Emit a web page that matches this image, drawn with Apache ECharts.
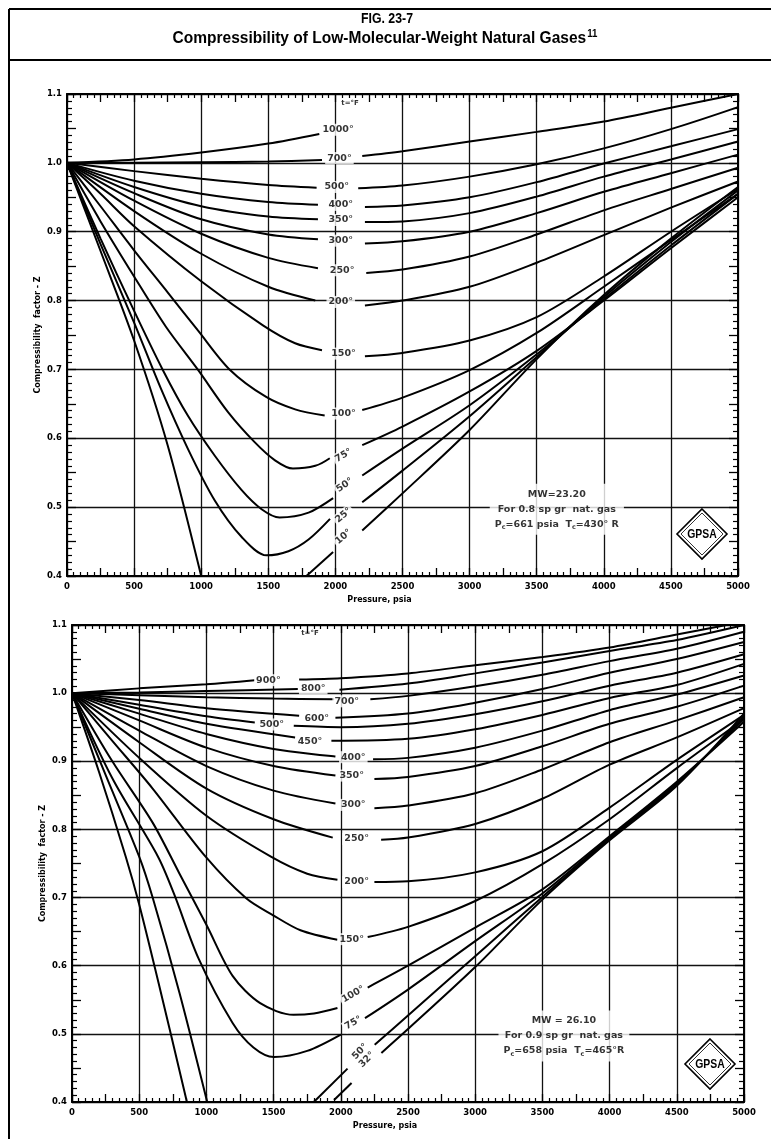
<!DOCTYPE html>
<html><head><meta charset="utf-8">
<script src="https://cdn.jsdelivr.net/npm/echarts@6/dist/echarts.min.js"></script>
<style>html,body{margin:0;padding:0;background:#fff;}#c{width:771px;height:1139px;}</style>
</head><body><div id="c"></div>
<script>
// ---------- DATA : top chart (0.8 sp gr gas), [pressure psia, Z] ; null = gap at label ----------
const topT1000 = [[0,1.000],[500,1.005],[1000,1.015],[1500,1.028],[1880,1.042]];
const topT700 = [[0,1.000],[500,1.000],[1000,1.001],[1500,1.002],[1900,1.004],null,[2200,1.010],[2500,1.017],[3000,1.031],[3500,1.045],[4000,1.060],[4500,1.080],[5000,1.100]];
const topT500 = [[0,1.000],[500,0.988],[1000,0.977],[1500,0.968],[1860,0.964],null,[2170,0.963],[2500,0.967],[3000,0.980],[3500,0.998],[4000,1.021],[4500,1.049],[5000,1.081]];
const topT400 = [[0,1.000],[500,0.974],[1000,0.955],[1500,0.943],[1870,0.939],null,[2220,0.936],[2500,0.938],[3000,0.950],[3500,0.972],[4000,0.999],[4500,1.024],[5000,1.049]];
const topT350 = [[0,1.000],[500,0.965],[1000,0.937],[1500,0.922],[1870,0.918],null,[2220,0.914],[2500,0.915],[3000,0.927],[3500,0.951],[4000,0.980],[4500,1.005],[5000,1.031]];
const topT300 = [[0,1.000],[500,0.956],[1000,0.918],[1500,0.896],[1870,0.889],null,[2220,0.883],[2500,0.886],[3000,0.900],[3500,0.927],[4000,0.958],[4500,0.985],[5000,1.012]];
const topT250 = [[0,1.000],[500,0.945],[1000,0.897],[1500,0.862],[1870,0.847],null,[2230,0.840],[2500,0.845],[3000,0.864],[3500,0.896],[4000,0.931],[4500,0.962],[5000,0.993]];
const topT200 = [[0,1.000],[500,0.930],[1000,0.868],[1500,0.820],[1850,0.800],null,[2220,0.793],[2500,0.800],[3000,0.820],[3500,0.855],[4000,0.895],[4500,0.935],[5000,0.973]];
const topT150 = [[0,1.000],[250,0.955],[500,0.908],[1000,0.828],[1460,0.764],[1700,0.738],[1900,0.728],null,[2220,0.719],[2500,0.724],[3000,0.742],[3500,0.776],[4000,0.835],[4500,0.900],[5000,0.962]];
const topT100 = [[0,1.000],[250,0.937],[500,0.873],[750,0.812],[974,0.757],[1211,0.700],[1484,0.660],[1700,0.642],[1920,0.633],null,[2200,0.641],[2500,0.659],[3000,0.699],[3500,0.753],[4000,0.820],[4500,0.888],[5000,0.955]];
const topT75 = [[0,1.000],[250,0.915],[500,0.835],[737,0.762],[974,0.700],[1200,0.638],[1400,0.594],[1550,0.568],[1684,0.556],[1850,0.560],[1958,0.571],null,[2200,0.590],[2500,0.617],[3000,0.668],[3500,0.727],[4000,0.800],[4500,0.876],[5000,0.950]];
const topT50 = [[0,1.000],[250,0.890],[500,0.785],[712,0.700],[900,0.633],[1100,0.575],[1300,0.525],[1450,0.497],[1584,0.485],[1800,0.492],[1983,0.513],null,[2200,0.546],[2500,0.585],[3000,0.648],[3500,0.722],[4000,0.802],[4500,0.880],[5000,0.955]];
const topT25 = [[0,1.000],[250,0.882],[500,0.768],[700,0.672],[900,0.585],[1100,0.510],[1300,0.457],[1485,0.430],[1650,0.436],[1800,0.453],[1960,0.483],null,[2200,0.507],[2500,0.553],[3000,0.632],[3500,0.718],[4000,0.805],[4500,0.885],[5000,0.960]];
const topT10 = [[0,1.000],[250,0.872],[500,0.742],[750,0.590],[1000,0.400],null,[1784,0.400],[1983,0.435],null,[2200,0.466],[2500,0.520],[3000,0.612],[3500,0.715],[4000,0.808],[4500,0.890],[5000,0.965]];
const topCurves = [topT1000,topT700,topT500,topT400,topT350,topT300,topT250,topT200,topT150,topT100,topT75,topT50,topT25,topT10];
const topLabelText = ['1000°','700°','500°','400°','350°','300°','250°','200°','150°','100°','75°','50°','25°','10°'];
const topLabelP = [2020,2030,2010,2040,2040,2040,2050,2040,2060,2060,2060,2070,2060,2060];
const topLabelZ = [1.048,1.007,0.965,0.939,0.917,0.887,0.844,0.798,0.723,0.636,0.575,0.532,0.488,0.457];

// ---------- DATA : bottom chart (0.9 sp gr gas) ----------
const botT900 = [[0,1.000],[500,1.007],[1000,1.013],[1360,1.019],null,[1690,1.020],[2000,1.022],[2500,1.029],[3000,1.041],[3500,1.053],[4000,1.067],[4500,1.086],[5000,1.105]];
const botT800 = [[0,1.000],[500,1.001],[1000,1.003],[1680,1.006],null,[1990,1.005],[2500,1.014],[3000,1.029],[3500,1.045],[4000,1.062],[4500,1.078],[5000,1.100]];
const botT700 = [[0,1.000],[500,0.997],[1000,0.994],[1500,0.992],[1950,0.991],null,[2220,0.991],[2500,0.996],[3000,1.010],[3500,1.027],[4000,1.047],[4500,1.065],[5000,1.090]];
const botT600 = [[0,1.000],[500,0.990],[1000,0.978],[1690,0.967],null,[1960,0.964],[2500,0.970],[3000,0.986],[3500,1.006],[4000,1.030],[4500,1.050],[5000,1.075]];
const botT500 = [[0,1.000],[500,0.983],[1000,0.966],[1360,0.957],null,[1650,0.952],[2000,0.950],[2500,0.955],[3000,0.969],[3500,0.988],[4000,1.011],[4500,1.030],[5000,1.057]];
const botT450 = [[0,1.000],[500,0.977],[1000,0.955],[1660,0.935],null,[1930,0.930],[2500,0.933],[3000,0.947],[3500,0.968],[4000,0.993],[4500,1.012],[5000,1.043]];
const botT400 = [[0,1.000],[500,0.970],[1000,0.940],[1500,0.918],[1960,0.907],null,[2240,0.903],[2500,0.905],[3000,0.920],[3500,0.945],[4000,0.975],[4500,0.998],[5000,1.026]];
const botT350 = [[0,1.000],[500,0.960],[1000,0.920],[1500,0.893],[1960,0.879],null,[2250,0.874],[2500,0.877],[3000,0.893],[3500,0.922],[4000,0.955],[4500,0.980],[5000,1.011]];
const botT300 = [[0,1.000],[500,0.945],[1000,0.893],[1500,0.857],[1960,0.838],null,[2250,0.831],[2500,0.835],[3000,0.853],[3500,0.888],[4000,0.928],[4500,0.960],[5000,0.994]];
const botT250 = [[0,1.000],[500,0.928],[1000,0.860],[1500,0.815],[1940,0.788],null,[2300,0.785],[2500,0.788],[3000,0.808],[3500,0.845],[4000,0.895],[4500,0.935],[5000,0.978]];
const botT200 = [[0,1.000],[500,0.905],[1000,0.820],[1480,0.760],[1750,0.735],[1975,0.726],null,[2250,0.723],[2500,0.724],[3000,0.737],[3500,0.768],[4000,0.832],[4500,0.902],[5000,0.968]];
const botT150 = [[0,1.000],[300,0.930],[600,0.860],[994,0.760],[1296,0.699],[1497,0.674],[1700,0.652],[1975,0.638],null,[2200,0.642],[2500,0.657],[3000,0.695],[3500,0.749],[4000,0.815],[4500,0.890],[5000,0.962]];
const botT100 = [[0,1.000],[300,0.900],[600,0.810],[800,0.735],[1000,0.660],[1195,0.585],[1400,0.545],[1648,0.528],[1800,0.530],[1975,0.538],null,[2200,0.568],[2500,0.600],[3000,0.656],[3500,0.712],[4000,0.790],[4500,0.870],[5000,0.958]];
const botT75 = [[0,1.000],[300,0.875],[640,0.760],[760,0.705],[943,0.610],[1195,0.516],[1350,0.480],[1503,0.466],[1750,0.475],[2000,0.499],null,[2180,0.523],[2500,0.565],[3000,0.636],[3500,0.706],[4000,0.788],[4500,0.868],[5000,0.962]];
const botT50 = [[0,1.000],[250,0.880],[500,0.760],[600,0.700],[800,0.560],[1006,0.400],null,[1799,0.400],[2050,0.449],null,[2252,0.484],[2500,0.527],[3000,0.614],[3500,0.701],[4000,0.786],[4500,0.866],[5000,0.966]];
const botT32 = [[0,1.000],[200,0.885],[400,0.760],[500,0.690],[650,0.570],[855,0.400],null,[1950,0.403],[2080,0.428],null,[2302,0.472],[2500,0.507],[3000,0.598],[3500,0.697],[4000,0.784],[4500,0.864],[5000,0.970]];
const botCurves = [botT900,botT800,botT700,botT600,botT500,botT450,botT400,botT350,botT300,botT250,botT200,botT150,botT100,botT75,botT50,botT32];
const botLabelText = ['900°','800°','700°','600°','500°','450°','400°','350°','300°','250°','200°','150°','100°','75°','50°','32°'];
const botLabelP = [1461,1795,2044,1821,1486,1771,2093,2081,2093,2118,2118,2081,2093,2093,2143,2193];
const botLabelZ = [1.019,1.007,0.988,0.963,0.954,0.929,0.906,0.879,0.836,0.786,0.723,0.639,0.558,0.516,0.474,0.462];

// axis tick values
const xTicks = [0,500,1000,1500,2000,2500,3000,3500,4000,4500,5000];
const yTicks = [0.4,0.5,0.6,0.7,0.8,0.9,1.0,1.1];

// notes
const topNote = ['MW=23.20','For 0.8 sp gr  nat. gas','661 psia','430° R'];
const botNote = ['MW = 26.10','For 0.9 sp gr  nat. gas','658 psia','465°R'];
const topNotePos = [3650, 0.497];
const botNotePos = [3660, 0.497];
const topTLabelPos = [2109, 1.087];
const botTLabelPos = [1771, 1.088];

// ---------- styles ----------
const topRot = [0,0,0,0,0,0,0,0,0,0,30,35,40,40];
const botRot = [0,0,0,0,0,0,0,0,0,0,0,0,30,30,45,45];
const FONT = "'DejaVu Sans', 'Liberation Sans', sans-serif";
const TFONT = "'Liberation Sans', Arial, sans-serif";

const chart = echarts.init(document.getElementById('c'), null, {renderer:'canvas'});

const grids = [
  {left:67, right:33, top:94, height:482},
  {left:72, right:27, top:625, height:477}
];

const xAxes = [], yAxes = [];
grids.forEach((g, gi) => {
  xAxes.push({gridIndex:gi, type:'value', min:xTicks[0], max:xTicks[xTicks.length-1], interval:500, position:'bottom',
    axisLine:{show:true, onZero:false, lineStyle:{color:'#000', width:2}},
    axisTick:{show:false},
    axisLabel:{color:'#000', fontFamily:FONT, fontWeight:'bold', fontSize:8.5, margin:6, formatter:v=>String(v)},
    splitLine:{show:true, lineStyle:{color:'#111', width:1.3}},
    name:'Pressure, psia', nameLocation:'middle', nameGap:20, nameMoveOverlap:false,
    nameTextStyle:{color:'#000', fontFamily:FONT, fontWeight:'bold', fontSize:8, padding:[0,46,0,0]}
  });
  xAxes.push({gridIndex:gi, type:'value', min:0, max:5000, interval:250, position:'bottom',
    axisLine:{show:false, onZero:false},
    axisTick:{show:true, inside:true, length:8, lineStyle:{color:'#000', width:1.3}},
    minorTick:{show:true, splitNumber:5, length:4, lineStyle:{color:'#000', width:1.2}},
    axisLabel:{show:false}, splitLine:{show:false}
  });
  xAxes.push({gridIndex:gi, type:'value', min:0, max:5000, interval:250, position:'top',
    axisLine:{show:true, onZero:false, lineStyle:{color:'#000', width:2}},
    axisTick:{show:true, inside:true, length:8, lineStyle:{color:'#000', width:1.3}},
    minorTick:{show:true, splitNumber:5, length:4, lineStyle:{color:'#000', width:1.2}},
    axisLabel:{show:false}, splitLine:{show:false}
  });
  yAxes.push({gridIndex:gi, type:'value', min:yTicks[0], max:yTicks[yTicks.length-1], interval:0.1, position:'left',
    axisLine:{show:true, onZero:false, lineStyle:{color:'#000', width:2}},
    axisTick:{show:false},
    axisLabel:{color:'#000', fontFamily:FONT, fontWeight:'bold', fontSize:8.5, margin:5, formatter:v=>v.toFixed(1)},
    splitLine:{show:true, lineStyle:{color:'#111', width:1.3}},
    name:'Compressibility  factor - Z', nameLocation:'middle', nameGap:25, nameRotate:90, nameMoveOverlap:false,
    nameTextStyle:{color:'#000', fontFamily:FONT, fontWeight:'bold', fontSize:8}
  });
  yAxes.push({gridIndex:gi, type:'value', min:0.4, max:1.1, interval:0.05, position:'left',
    axisLine:{show:false, onZero:false},
    axisTick:{show:true, inside:true, length:9, lineStyle:{color:'#000', width:1.3}},
    minorTick:{show:true, splitNumber:5, length:5, lineStyle:{color:'#000', width:1.2}},
    axisLabel:{show:false}, splitLine:{show:false}
  });
  yAxes.push({gridIndex:gi, type:'value', min:0.4, max:1.1, interval:0.05, position:'right',
    axisLine:{show:true, onZero:false, lineStyle:{color:'#000', width:2}},
    axisTick:{show:true, inside:true, length:9, lineStyle:{color:'#000', width:1.3}},
    minorTick:{show:true, splitNumber:5, length:5, lineStyle:{color:'#000', width:1.2}},
    axisLabel:{show:false}, splitLine:{show:false}
  });
});

function segments(arr){
  const out=[]; let cur=[];
  arr.forEach(p=>{ if(p===null){ if(cur.length) out.push(cur); cur=[]; } else cur.push(p); });
  if(cur.length) out.push(cur);
  return out;
}

const series = [];
function addCurves(curves, axisIdx){
  curves.forEach(c => segments(c).forEach(s => series.push({
    type:'line', xAxisIndex:axisIdx, yAxisIndex:axisIdx, data:s, smooth:0.3,
    symbol:'none', silent:true, z:3, lineStyle:{color:'#000', width:2}
  })));
}
addCurves(topCurves, 0);
addCurves(botCurves, 3);

function addLabels(texts, ps, zs, rots, axisIdx){
  series.push({
    type:'scatter', xAxisIndex:axisIdx, yAxisIndex:axisIdx, symbolSize:1, silent:true, z:6,
    itemStyle:{color:'rgba(0,0,0,0)'},
    data: texts.map((t,i)=>({value:[ps[i], zs[i]], name:t, label:{rotate:rots[i]}})),
    label:{show:true, position:'inside', formatter:p=>p.name, color:'#000', fontFamily:FONT, fontWeight:'bold',
      fontSize:9.5, backgroundColor:'#fff', padding:[1,2]}
  });
}
addLabels(topLabelText, topLabelP, topLabelZ, topRot, 0);
addLabels(botLabelText, botLabelP, botLabelZ, botRot, 3);

function addNote(note, pos, tpos, axisIdx){
  const richStyle = {
    a:{fontFamily:FONT, fontWeight:'bold', fontSize:9.5, color:'#000', lineHeight:15},
    s:{fontFamily:FONT, fontWeight:'bold', fontSize:6.5, color:'#000', lineHeight:15, padding:[6,0,0,0]}
  };
  series.push({
    type:'scatter', xAxisIndex:axisIdx, yAxisIndex:axisIdx, symbolSize:1, silent:true, z:6,
    itemStyle:{color:'rgba(0,0,0,0)'},
    data:[{value:pos}],
    label:{show:true, position:'inside', align:'center', backgroundColor:'#fff', padding:[3,5],
      formatter: '{a|'+note[0]+'}\n{a|'+note[1]+'}\n{a|P}{s|c}{a|='+note[2]+'  T}{s|c}{a|='+note[3]+'}',
      rich:richStyle}
  });
  series.push({
    type:'scatter', xAxisIndex:axisIdx, yAxisIndex:axisIdx, symbolSize:1, silent:true, z:6,
    itemStyle:{color:'rgba(0,0,0,0)'},
    data:[{value:tpos}],
    label:{show:true, position:'inside', formatter:'t=°F', color:'#000', fontFamily:FONT, fontWeight:'bold', fontSize:7}
  });
}
addNote(topNote, topNotePos, topTLabelPos, 0);
addNote(botNote, botNotePos, botTLabelPos, 3);

function logo(cx, cy){
  const r = 25, r2 = 21;
  return {type:'group', x:cx, y:cy, z:10, children:[
    {type:'polygon', shape:{points:[[0,-r],[r,0],[0,r],[-r,0]]}, style:{fill:'#fff', stroke:'#000', lineWidth:1.6}},
    {type:'polygon', shape:{points:[[0,-r2],[r2,0],[0,r2],[-r2,0]]}, style:{fill:'none', stroke:'#000', lineWidth:0.8}},
    {type:'text', x:0, y:0, scaleX:0.8, style:{text:'GPSA', font:"bold 13px "+TFONT, fill:'#000', align:'center', verticalAlign:'middle'}}
  ]};
}

const option = {
  animation:false,
  backgroundColor:'#fff',
  grid: grids,
  xAxis: xAxes,
  yAxis: yAxes,
  series: series,
  graphic: [
    {type:'line', shape:{x1:9, y1:9, x2:771, y2:9}, style:{stroke:'#000', lineWidth:2}},
    {type:'line', shape:{x1:9, y1:60, x2:771, y2:60}, style:{stroke:'#000', lineWidth:2}},
    {type:'line', shape:{x1:9, y1:9, x2:9, y2:1139}, style:{stroke:'#000', lineWidth:2}},
    {type:'text', x:387, y:19, scaleX:0.82, style:{text:'FIG. 23-7', font:"bold 15px "+TFONT, fill:'#000', align:'center', verticalAlign:'middle'}},
    {type:'text', x:385, y:39, scaleX:0.97, style:{text:'{m|Compressibility of Low-Molecular-Weight Natural Gases}{s|11}', align:'center', verticalAlign:'middle',
      rich:{m:{font:"bold 16px "+TFONT, fill:'#000'}, s:{font:"bold 10px "+TFONT, fill:'#000', padding:[0,0,9,1]}}}},
    logo(702, 534),
    logo(710, 1064)
  ]
};
chart.setOption(option);
</script></body></html>
